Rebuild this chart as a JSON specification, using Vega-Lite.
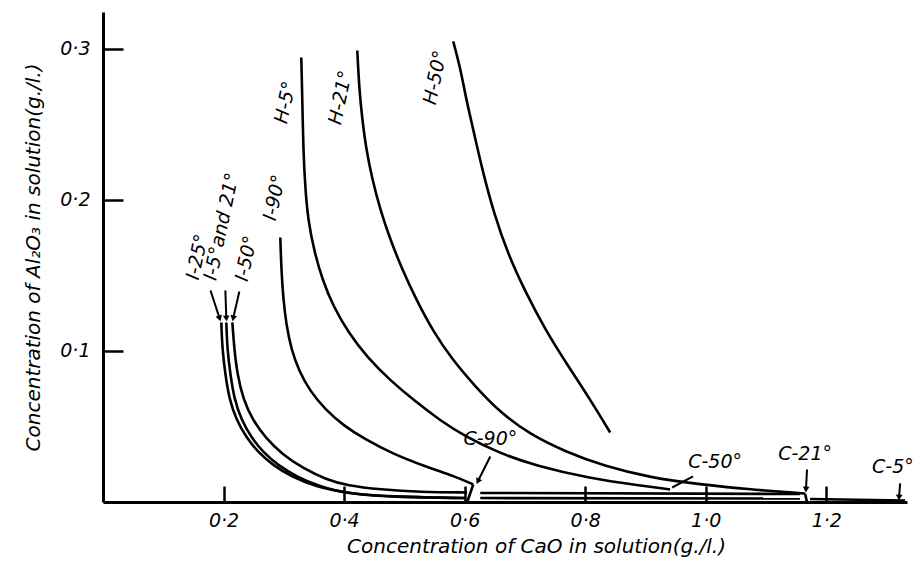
{
  "$schema": "https://vega.github.io/schema/vega-lite/v6.json",
  "width": 804,
  "height": 490,
  "autosize": "none",
  "padding": {"left": 103, "top": 12, "right": 13, "bottom": 68},
  "background": "white",
  "config": {
    "view": {"stroke": null},
    "font": "DejaVu Sans",
    "axis": {
      "grid": false,
      "domainColor": "black",
      "domainWidth": 3,
      "tickColor": "black",
      "tickWidth": 2.5,
      "labelColor": "black",
      "labelFont": "DejaVu Sans",
      "labelFontStyle": "italic",
      "labelFontSize": 19,
      "titleColor": "black",
      "titleFont": "DejaVu Sans",
      "titleFontStyle": "italic",
      "titleFontWeight": "normal",
      "titleFontSize": 20
    }
  },
  "datasets": {
    "curves": [
      {"c": "H-50", "x": 0.5811, "y": 0.3050},
      {"c": "H-50", "x": 0.5927, "y": 0.2877},
      {"c": "H-50", "x": 0.6027, "y": 0.2666},
      {"c": "H-50", "x": 0.6143, "y": 0.2467},
      {"c": "H-50", "x": 0.6292, "y": 0.2202},
      {"c": "H-50", "x": 0.6491, "y": 0.1904},
      {"c": "H-50", "x": 0.6723, "y": 0.1639},
      {"c": "H-50", "x": 0.7005, "y": 0.1394},
      {"c": "H-50", "x": 0.7337, "y": 0.1142},
      {"c": "H-50", "x": 0.7701, "y": 0.0911},
      {"c": "H-50", "x": 0.8083, "y": 0.0679},
      {"c": "H-50", "x": 0.8415, "y": 0.0460},

      {"c": "H-21", "x": 0.4219, "y": 0.2990},
      {"c": "H-21", "x": 0.4252, "y": 0.2732},
      {"c": "H-21", "x": 0.4302, "y": 0.2533},
      {"c": "H-21", "x": 0.4368, "y": 0.2334},
      {"c": "H-21", "x": 0.4468, "y": 0.2136},
      {"c": "H-21", "x": 0.4600, "y": 0.1937},
      {"c": "H-21", "x": 0.4766, "y": 0.1738},
      {"c": "H-21", "x": 0.4965, "y": 0.1540},
      {"c": "H-21", "x": 0.5197, "y": 0.1341},
      {"c": "H-21", "x": 0.5479, "y": 0.1129},
      {"c": "H-21", "x": 0.5794, "y": 0.0944},
      {"c": "H-21", "x": 0.6176, "y": 0.0765},
      {"c": "H-21", "x": 0.6590, "y": 0.0593},
      {"c": "H-21", "x": 0.7088, "y": 0.0447},
      {"c": "H-21", "x": 0.7668, "y": 0.0334},
      {"c": "H-21", "x": 0.8332, "y": 0.0235},
      {"c": "H-21", "x": 0.9078, "y": 0.0162},
      {"c": "H-21", "x": 0.9907, "y": 0.0116},
      {"c": "H-21", "x": 1.0736, "y": 0.0083},
      {"c": "H-21", "x": 1.1648, "y": 0.0056},

      {"c": "H-5", "x": 0.3290, "y": 0.2944},
      {"c": "H-5", "x": 0.3307, "y": 0.2666},
      {"c": "H-5", "x": 0.3323, "y": 0.2334},
      {"c": "H-5", "x": 0.3357, "y": 0.2070},
      {"c": "H-5", "x": 0.3406, "y": 0.1858},
      {"c": "H-5", "x": 0.3506, "y": 0.1659},
      {"c": "H-5", "x": 0.3638, "y": 0.1474},
      {"c": "H-5", "x": 0.3821, "y": 0.1295},
      {"c": "H-5", "x": 0.4070, "y": 0.1123},
      {"c": "H-5", "x": 0.4385, "y": 0.0957},
      {"c": "H-5", "x": 0.4766, "y": 0.0805},
      {"c": "H-5", "x": 0.5181, "y": 0.0666},
      {"c": "H-5", "x": 0.5595, "y": 0.0540},
      {"c": "H-5", "x": 0.6010, "y": 0.0434},
      {"c": "H-5", "x": 0.6590, "y": 0.0321},
      {"c": "H-5", "x": 0.7171, "y": 0.0242},
      {"c": "H-5", "x": 0.8083, "y": 0.0156},
      {"c": "H-5", "x": 0.8912, "y": 0.0109},
      {"c": "H-5", "x": 0.9410, "y": 0.0083},

      {"c": "I-90", "x": 0.2942, "y": 0.1752},
      {"c": "I-90", "x": 0.2959, "y": 0.1540},
      {"c": "I-90", "x": 0.2992, "y": 0.1341},
      {"c": "I-90", "x": 0.3041, "y": 0.1175},
      {"c": "I-90", "x": 0.3124, "y": 0.1010},
      {"c": "I-90", "x": 0.3257, "y": 0.0864},
      {"c": "I-90", "x": 0.3439, "y": 0.0732},
      {"c": "I-90", "x": 0.3688, "y": 0.0613},
      {"c": "I-90", "x": 0.3987, "y": 0.0507},
      {"c": "I-90", "x": 0.4352, "y": 0.0414},
      {"c": "I-90", "x": 0.4799, "y": 0.0321},
      {"c": "I-90", "x": 0.5347, "y": 0.0235},
      {"c": "I-90", "x": 0.5844, "y": 0.0169},
      {"c": "I-90", "x": 0.6143, "y": 0.0116},

      {"c": "I-25", "x": 0.1963, "y": 0.1189},
      {"c": "I-25", "x": 0.1980, "y": 0.1010},
      {"c": "I-25", "x": 0.2030, "y": 0.0844},
      {"c": "I-25", "x": 0.2096, "y": 0.0679},
      {"c": "I-25", "x": 0.2212, "y": 0.0546},
      {"c": "I-25", "x": 0.2378, "y": 0.0427},
      {"c": "I-25", "x": 0.2577, "y": 0.0328},
      {"c": "I-25", "x": 0.2826, "y": 0.0242},
      {"c": "I-25", "x": 0.3124, "y": 0.0169},
      {"c": "I-25", "x": 0.3522, "y": 0.0103},
      {"c": "I-25", "x": 0.4053, "y": 0.0056},
      {"c": "I-25", "x": 0.4932, "y": 0.0033},
      {"c": "I-25", "x": 0.6010, "y": 0.0026},

      {"c": "I-5", "x": 0.2046, "y": 0.1189},
      {"c": "I-5", "x": 0.2063, "y": 0.1010},
      {"c": "I-5", "x": 0.2113, "y": 0.0844},
      {"c": "I-5", "x": 0.2179, "y": 0.0679},
      {"c": "I-5", "x": 0.2295, "y": 0.0546},
      {"c": "I-5", "x": 0.2461, "y": 0.0427},
      {"c": "I-5", "x": 0.2660, "y": 0.0328},
      {"c": "I-5", "x": 0.2909, "y": 0.0242},
      {"c": "I-5", "x": 0.3207, "y": 0.0169},
      {"c": "I-5", "x": 0.3589, "y": 0.0103},
      {"c": "I-5", "x": 0.4053, "y": 0.0053},
      {"c": "I-5", "x": 0.4932, "y": 0.0031},
      {"c": "I-5", "x": 0.6010, "y": 0.0026},

      {"c": "I-50", "x": 0.2146, "y": 0.1189},
      {"c": "I-50", "x": 0.2179, "y": 0.1010},
      {"c": "I-50", "x": 0.2229, "y": 0.0844},
      {"c": "I-50", "x": 0.2328, "y": 0.0679},
      {"c": "I-50", "x": 0.2478, "y": 0.0546},
      {"c": "I-50", "x": 0.2693, "y": 0.0427},
      {"c": "I-50", "x": 0.2975, "y": 0.0315},
      {"c": "I-50", "x": 0.3323, "y": 0.0222},
      {"c": "I-50", "x": 0.3705, "y": 0.0149},
      {"c": "I-50", "x": 0.4053, "y": 0.0109},
      {"c": "I-50", "x": 0.4600, "y": 0.0083},
      {"c": "I-50", "x": 0.5264, "y": 0.0066},
      {"c": "I-50", "x": 0.6043, "y": 0.0063},

      {"c": "C-90", "x": 0.6043, "y": 0.0000},
      {"c": "C-90", "x": 0.6143, "y": 0.0116},

      {"c": "B1", "x": 0.6259, "y": 0.0060},
      {"c": "B1", "x": 1.1565, "y": 0.0053},
      {"c": "B2", "x": 0.6259, "y": 0.0026},
      {"c": "B2", "x": 1.1565, "y": 0.0023},

      {"c": "C-21", "x": 1.1648, "y": 0.0056},
      {"c": "C-21", "x": 1.1681, "y": 0.0000},

      {"c": "C-5", "x": 1.1731, "y": 0.0020},
      {"c": "C-5", "x": 1.3308, "y": 0.0010}
    ],
    "vlabels": [
      {"t": "H-5°", "x": 0.3025, "y": 0.2646},
      {"t": "H-21°", "x": 0.3940, "y": 0.2679},
      {"t": "H-50°", "x": 0.5513, "y": 0.2811},
      {"t": "I-90°", "x": 0.2846, "y": 0.2016},
      {"t": "I-25°", "x": 0.1565, "y": 0.1623},
      {"t": "I-5°and 21°", "x": 0.1967, "y": 0.1824},
      {"t": "I-50°", "x": 0.2378, "y": 0.1613}
    ],
    "hlabels": [
      {"t": "C-90°", "x": 0.6427, "y": 0.0414},
      {"t": "C-50°", "x": 1.0156, "y": 0.0262},
      {"t": "C-21°", "x": 1.1649, "y": 0.0315},
      {"t": "C-5°", "x": 1.3106, "y": 0.0235}
    ],
    "arrows": [
      {"x": 0.6426, "y": 0.0301, "x2": 0.6227, "y2": 0.0142, "dir": 206, "head": true},
      {"x": 1.1681, "y": 0.0215, "x2": 1.1665, "y2": 0.0089, "dir": 183, "head": true},
      {"x": 1.3226, "y": 0.0123, "x2": 1.3209, "y2": 0.0036, "dir": 184, "head": true},
      {"x": 0.1784, "y": 0.1401, "x2": 0.1930, "y2": 0.1222, "dir": 162, "head": true},
      {"x": 0.2030, "y": 0.1401, "x2": 0.2046, "y2": 0.1222, "dir": 178, "head": true},
      {"x": 0.2262, "y": 0.1394, "x2": 0.2163, "y2": 0.1222, "dir": 193, "head": true},
      {"x": 0.9790, "y": 0.0169, "x2": 0.9443, "y2": 0.0096, "dir": 0, "head": false}
    ]
  },
  "layer": [
    {
      "data": {"name": "curves"},
      "mark": {"type": "line", "color": "black", "strokeWidth": 2.6, "interpolate": "basis"},
      "encoding": {
        "x": {
          "field": "x", "type": "quantitative",
          "scale": {"domain": [0, 1.334], "nice": false, "zero": false},
          "axis": {
            "values": [0.2, 0.4, 0.6, 0.8, 1.0, 1.2],
            "labelExpr": "replace(format(datum.value, '.1f'), '.', '·')",
            "tickSize": -16,
            "labelPadding": 25,
            "title": "Concentration of CaO in solution(g./l.)",
            "titlePadding": 6,
            "titleX": 433
          }
        },
        "y": {
          "field": "y", "type": "quantitative",
          "scale": {"domain": [0, 0.3245], "nice": false, "zero": false},
          "axis": {
            "values": [0.1, 0.2, 0.3],
            "labelExpr": "replace(format(datum.value, '.1f'), '.', '·')",
            "tickSize": -20,
            "labelPadding": 33,
            "title": "Concentration of Al₂O₃ in solution(g./l.)",
            "titlePadding": 16
          }
        },
        "detail": {"field": "c"},
        "order": {"value": null}
      }
    },
    {
      "data": {"name": "vlabels"},
      "mark": {"type": "text", "angle": -78, "fontSize": 19, "fontStyle": "italic", "color": "black", "align": "center", "baseline": "middle"},
      "encoding": {
        "x": {"field": "x", "type": "quantitative"},
        "y": {"field": "y", "type": "quantitative"},
        "text": {"field": "t"}
      }
    },
    {
      "data": {"name": "hlabels"},
      "mark": {"type": "text", "fontSize": 19, "fontStyle": "italic", "color": "black", "align": "center", "baseline": "middle"},
      "encoding": {
        "x": {"field": "x", "type": "quantitative"},
        "y": {"field": "y", "type": "quantitative"},
        "text": {"field": "t"}
      }
    },
    {
      "data": {"name": "arrows"},
      "mark": {"type": "rule", "color": "black", "strokeWidth": 2},
      "encoding": {
        "x": {"field": "x", "type": "quantitative"},
        "y": {"field": "y", "type": "quantitative"},
        "x2": {"field": "x2"},
        "y2": {"field": "y2"}
      }
    },
    {
      "data": {"name": "arrows"},
      "transform": [{"filter": "datum.head"}],
      "mark": {"type": "point", "shape": "triangle", "filled": true, "color": "black", "size": 45, "opacity": 1},
      "encoding": {
        "x": {"field": "x2", "type": "quantitative"},
        "y": {"field": "y2", "type": "quantitative"},
        "angle": {"field": "dir", "type": "quantitative", "scale": null}
      }
    }
  ]
}
